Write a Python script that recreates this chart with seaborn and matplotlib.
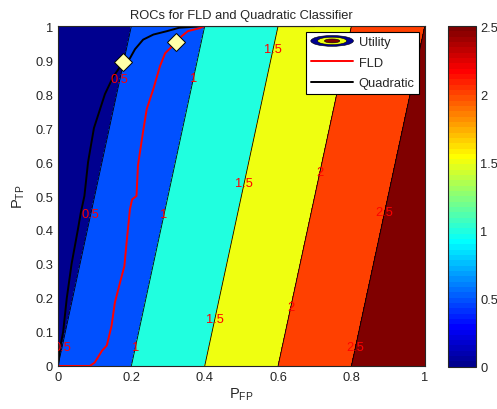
import numpy as np
import pandas as pd
import matplotlib
matplotlib.use("Agg")
import matplotlib.pyplot as plt
import seaborn as sns
from matplotlib.patches import Ellipse
from matplotlib.lines import Line2D
from matplotlib.legend_handler import HandlerBase
from matplotlib.ticker import FormatStrFormatter
from matplotlib.colors import Normalize, ListedColormap
from matplotlib.cm import ScalarMappable

# utility surface: U = a*Pfp + b*Ptp + c
util_coef = {"a": 2.5, "b": -0.5, "c": 0.5}
util_levels = [0, 0.5, 1, 1.5, 2, 2.5]

# ROC curves
fld_pfp = [0, 0.087, 0.10, 0.12, 0.133, 0.146, 0.155, 0.169, 0.181, 0.187, 0.196, 0.202,
           0.214, 0.218, 0.232, 0.242, 0.26, 0.278, 0.292, 0.323, 0.337, 0.354, 0.387, 0.40, 1.0]
fld_ptp = [0, 0.0, 0.01, 0.045, 0.06, 0.118, 0.186, 0.245, 0.294, 0.363, 0.46, 0.49,
           0.50, 0.59, 0.69, 0.756, 0.815, 0.882, 0.92, 0.953, 0.97, 0.985, 0.994, 1.0, 1.0]
quad_pfp = [0, 0.005, 0.014, 0.024, 0.037, 0.054, 0.062, 0.072, 0.082, 0.098, 0.113, 0.128,
            0.15, 0.178, 0.196, 0.21, 0.232, 0.26, 0.297, 0.33, 0.40, 0.70]
quad_ptp = [0, 0.05, 0.1, 0.2, 0.3, 0.4, 0.45, 0.5, 0.6, 0.7, 0.75, 0.8,
            0.85, 0.894, 0.905, 0.932, 0.96, 0.975, 0.985, 0.995, 1.0, 1.0]

# operating points (diamonds)
op_pfp = [0.178, 0.323]
op_ptp = [0.894, 0.953]


def matlab_jet(m=64):
    # same construction as MATLAB's jet(m)
    n = int(np.ceil(m / 4))
    u = np.concatenate([np.arange(1, n + 1) / n, np.ones(n - 1), np.arange(n, 0, -1) / n])
    g = int(np.ceil(n / 2)) - (1 if m % 4 == 1 else 0) + np.arange(1, len(u) + 1)
    r = g + n
    b = g - n
    J = np.zeros((m, 3))
    J[r[r <= m] - 1, 0] = u[r <= m]
    J[g[g <= m] - 1, 1] = u[g <= m]
    J[b[b >= 1] - 1, 2] = u[b >= 1]
    return ListedColormap(J)


sns.set_style("ticks")
fs = 9.3
plt.rcParams["font.family"] = ["Liberation Sans", "DejaVu Sans"]
plt.rcParams["font.size"] = fs
plt.rcParams["mathtext.fontset"] = "custom"
plt.rcParams["mathtext.rm"] = "Liberation Sans"

jet = matlab_jet(64)
vmax = util_levels[-1]


def level_color(v):
    idx = min(int(np.floor(v / vmax * jet.N)), jet.N - 1)
    return jet.colors[idx]


fig = plt.figure(figsize=(4.97, 4.10), dpi=100)
ax = fig.add_axes([0.1167, 0.105, 0.738, 0.829])
cax = fig.add_axes([0.901, 0.103, 0.056, 0.831])

pf, pt = np.meshgrid(np.linspace(0, 1, 201), np.linspace(0, 1, 201))
U = util_coef["a"] * pf + util_coef["b"] * pt + util_coef["c"]
fill_levels = util_levels + [U.max() + 0.01]
fill_colors = [level_color(v) for v in util_levels]
ax.contourf(pf, pt, U, levels=fill_levels, colors=fill_colors)
cs = ax.contour(pf, pt, U, levels=util_levels[1:], colors="black", linewidths=0.6)

label_spots = [(0.169, 0.844), (0.087, 0.447), (0.014, 0.056),
               (0.368, 0.847), (0.286, 0.447), (0.205, 0.056),
               (0.578, 0.935), (0.496, 0.541), (0.423, 0.138),
               (0.706, 0.571), (0.627, 0.176),
               (0.886, 0.453), (0.804, 0.056)]
ax.clabel(cs, fmt="%g", inline=False, colors="red", manual=label_spots, fontsize=fs)
for t in cs.labelTexts:
    t.set_rotation(0)

roc = pd.DataFrame({"pfp": fld_pfp, "ptp": fld_ptp})
roc_q = pd.DataFrame({"pfp": quad_pfp, "ptp": quad_ptp})
sns.lineplot(data=roc_q, x="pfp", y="ptp", sort=False, estimator=None, color="black", lw=1.4, ax=ax)
sns.lineplot(data=roc, x="pfp", y="ptp", sort=False, estimator=None, color="red", lw=1.4, ax=ax)
ax.plot(op_pfp, op_ptp, "D", ms=9.5, mfc="#ffffa8", mec="black", mew=0.7, zorder=5)

ax.set_xlim(0, 1)
ax.set_ylim(0, 1)
ax.set_xticks(np.arange(0, 1.01, 0.2))
ax.set_yticks(np.arange(0, 1.01, 0.1))
ax.xaxis.set_major_formatter(FormatStrFormatter("%g"))
ax.yaxis.set_major_formatter(FormatStrFormatter("%g"))
ax.tick_params(direction="in", top=True, right=True, length=3, width=0.6, labelsize=fs)
for s in ax.spines.values():
    s.set_linewidth(0.8)
ax.set_xlabel(r"$\mathregular{P_{FP}}$", fontsize=10.5, labelpad=2)
ax.set_ylabel(r"$\mathregular{P_{TP}}$", fontsize=10.5, labelpad=6)
ax.set_title("ROCs for FLD and Quadratic Classifier", fontsize=fs, pad=6)


class UtilityHandler(HandlerBase):
    def create_artists(self, legend, orig_handle, xdescent, ydescent, width, height, fontsize, trans):
        cx = width / 2 - xdescent
        cy = height / 2 - ydescent
        arts = []
        for sc, col in [(1.0, level_color(0)), (0.68, level_color(1.5)), (0.36, level_color(2.5))]:
            arts.append(Ellipse((cx, cy), width * sc, height * 1.2 * sc, facecolor=col,
                                edgecolor="black", lw=0.4, transform=trans))
        return arts


util_handle = Line2D([], [])
handles = [util_handle, Line2D([], [], color="red", lw=1.4), Line2D([], [], color="black", lw=1.4)]
leg = ax.legend(handles, ["Utility", "FLD", "Quadratic"], loc="upper right",
                handler_map={util_handle: UtilityHandler()}, fancybox=False,
                edgecolor="black", framealpha=1, handlelength=3.3, borderaxespad=0.45,
                fontsize=fs, labelspacing=0.65, handletextpad=0.4, borderpad=0.35)
leg.get_frame().set_linewidth(0.8)

cb = fig.colorbar(ScalarMappable(norm=Normalize(0, vmax), cmap=jet), cax=cax,
                  ticks=util_levels)
cb.ax.yaxis.set_major_formatter(FormatStrFormatter("%g"))
cb.ax.tick_params(direction="in", length=3, width=0.6, left=True, right=True, labelsize=fs)
cb.outline.set_linewidth(0.8)

fig.savefig("out.png", dpi=100)
